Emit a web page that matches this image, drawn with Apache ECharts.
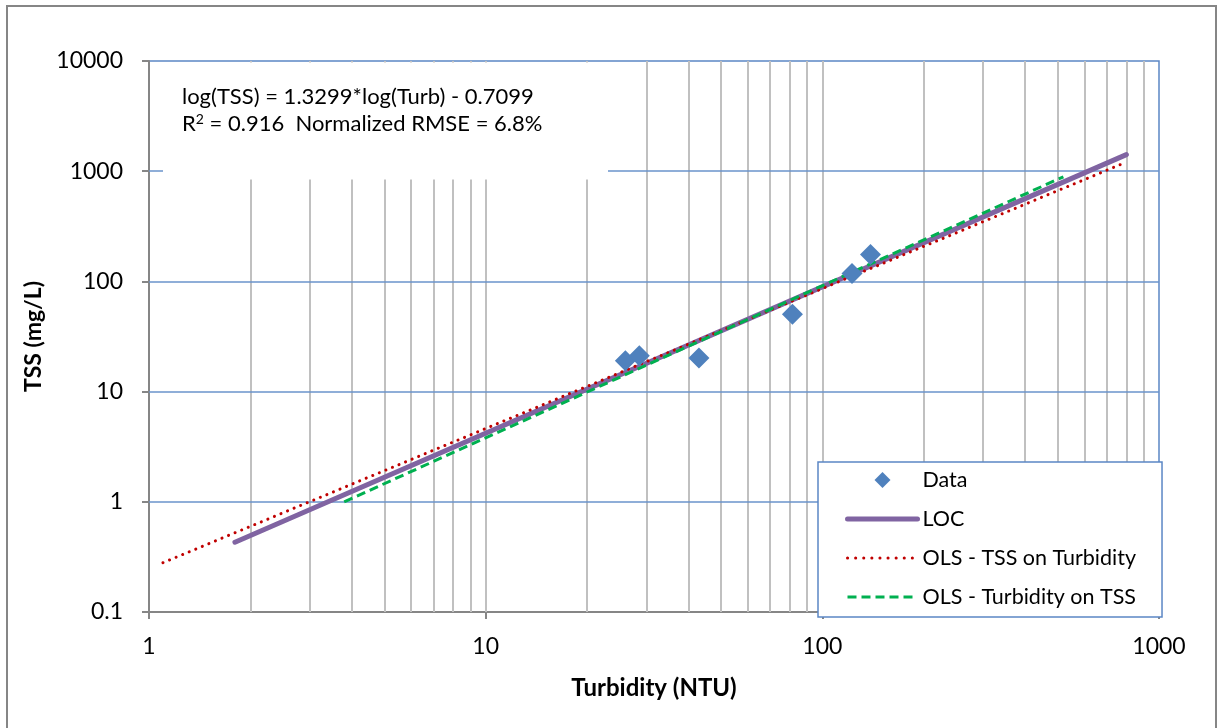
<!DOCTYPE html>
<html>
<head>
<meta charset="utf-8">
<script src="https://cdn.jsdelivr.net/npm/echarts@6/dist/echarts.min.js"></script>
<style>
html,body{margin:0;padding:0;background:#fff;}
#chart{width:1221px;height:728px;}
</style>
</head>
<body>
<div id="chart"></div>
<script>
// ---- Data ----
const turbidity = [26, 28.6, 43, 81.5, 122.5, 139];
const tss = [19.1, 21.2, 20.2, 50.4, 118, 175];
const locLine = [[1.8, 0.43], [800, 1415]];
const olsTssOnTurb = [[1.1, 0.28], [790, 1190]];
const olsTurbOnTss = [[3.8, 1.0], [520, 890]];
const xMinorGrid = [2,3,4,5,6,7,8,9,10,20,30,40,50,60,70,80,90,100,200,300,400,500,600,700,800,900];
const yMajorGrid = [1, 10, 100, 1000];
const equationLine1 = 'log(TSS) = 1.3299*log(Turb) - 0.7099';
const equationLine2 = '0.916  Normalized RMSE = 6.8%';

const FONT = 'Lato, "Open Sans", sans-serif';
const chart = echarts.init(document.getElementById('chart'));

const gridMarks = xMinorGrid.map(v => ({xAxis: v, lineStyle: {color: '#c0c0c0', width: 2, type: 'solid'}}))
  .concat(yMajorGrid.map(v => ({yAxis: v, lineStyle: {color: '#6a93cb', width: 1.5, type: 'solid'}})));

chart.setOption({
  animation: false,
  backgroundColor: '#fff',
  grid: {left: 149, right: 62, top: 61, bottom: 116, show: true, borderColor: '#5b87c5', borderWidth: 1.5, backgroundColor: 'transparent'},
  xAxis: {
    type: 'log', logBase: 10, min: 1, max: 1000,
    name: 'Turbidity (NTU)', nameLocation: 'middle', nameGap: 64,
    nameTextStyle: {fontFamily: FONT, fontSize: 24, fontWeight: 'bold', color: '#000'},
    axisLine: {show: true, lineStyle: {color: '#868686', width: 2}},
    axisTick: {show: true, length: 7, lineStyle: {color: '#868686', width: 2}},
    axisLabel: {fontFamily: FONT, fontSize: 23, color: '#000', margin: 23, formatter: v => String(v)},
    splitLine: {show: false},
    minorTick: {show: false}
  },
  yAxis: {
    type: 'log', logBase: 10, min: 0.1, max: 10000,
    name: 'TSS (mg/L)', nameLocation: 'middle', nameGap: 97,
    nameTextStyle: {fontFamily: FONT, fontSize: 23, fontWeight: 'bold', color: '#000'},
    axisLine: {show: true, lineStyle: {color: '#868686', width: 2}},
    axisTick: {show: true, length: 7, lineStyle: {color: '#868686', width: 2}},
    axisLabel: {fontFamily: FONT, fontSize: 23, color: '#000', margin: 26,
      formatter: v => String(v)},
    splitLine: {show: false}
  },
  legend: {
    orient: 'vertical', left: 818, top: 462,
    backgroundColor: '#fff', borderColor: '#5b87c5', borderWidth: 1.5,
    padding: [7, 26, 9, 27], itemGap: 17, itemWidth: 70, itemHeight: 16,
    textStyle: {fontFamily: FONT, fontSize: 21.5, color: '#000'},
    data: [
      {name: 'Data', icon: 'path://M0,0M70,16M27,8L35,0L43,8L35,16Z', itemStyle: {opacity: 1}},
      {name: 'LOC', itemStyle: {opacity: 0}, lineStyle: {width: 5, cap: 'round'}},
      {name: 'OLS - TSS on Turbidity', itemStyle: {opacity: 0}, lineStyle: {width: 3, type: [0.1, 8], cap: 'round'}},
      {name: 'OLS - Turbidity on TSS', itemStyle: {opacity: 0}, lineStyle: {width: 3, type: [9, 5]}}
    ]
  },
  graphic: [
    {type: 'rect', z: 10, shape: {x: 7, y: 6, width: 1209, height: 730}, style: {fill: 'none', stroke: '#868686', lineWidth: 2}},
    {type: 'rect', z: 10, shape: {x: 163, y: 62.5, width: 445, height: 117}, style: {fill: '#fff'}},
    {type: 'text', z: 11, left: 182, top: 86, style: {text: equationLine1, font: '22px ' + FONT, fill: '#000'}},
    {type: 'text', z: 11, left: 182, top: 112, style: {
      text: '{r|R}{s|2}{r| = ' + equationLine2 + '}',
      rich: {r: {fontFamily: FONT, fontSize: 22, fill: '#000', verticalAlign: 'bottom'},
             s: {fontFamily: FONT, fontSize: 14, fill: '#000', verticalAlign: 'top', padding: [0,0,9,0]}}
    }}
  ],
  series: [
    {
      name: '_grid', type: 'line', data: [], silent: true, z: 1,
      markLine: {silent: true, symbol: 'none', label: {show: false}, z: 1, animation: false, data: gridMarks}
    },
    {
      name: 'Data', type: 'scatter', z: 5,
      data: turbidity.map((t, i) => [t, tss[i]]),
      symbol: 'diamond', symbolSize: 21,
      itemStyle: {color: '#4f81bd', opacity: 1}
    },
    {
      name: 'LOC', type: 'line', z: 3, data: locLine, symbol: 'none',
      lineStyle: {color: '#8064a2', width: 5, cap: 'round'}, itemStyle: {color: '#8064a2'}
    },
    {
      name: 'OLS - TSS on Turbidity', type: 'line', z: 4, data: olsTssOnTurb, symbol: 'none',
      lineStyle: {color: '#c00000', width: 3, type: [0.1, 7], cap: 'round'}, itemStyle: {color: '#c00000'}
    },
    {
      name: 'OLS - Turbidity on TSS', type: 'line', z: 4, data: olsTurbOnTss, symbol: 'none',
      lineStyle: {color: '#00b050', width: 3, type: [9, 5]}, itemStyle: {color: '#00b050'}
    }
  ]
});
</script>
</body>
</html>
